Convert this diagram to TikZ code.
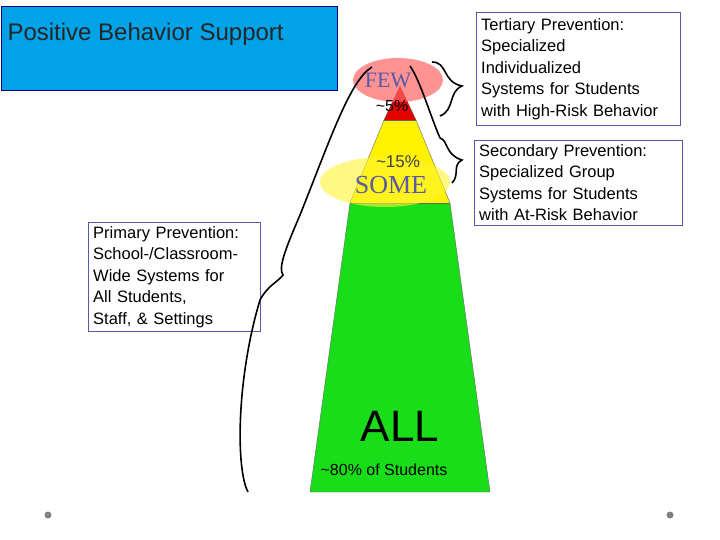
\documentclass[tikz,border=0pt]{standalone}
\usepackage{fontspec}
\setmainfont{Liberation Sans}
\newfontfamily\serf{Liberation Serif}
\definecolor{titleblue}{RGB}{0,162,232}
\begin{document}
\begin{tikzpicture}[x=1pt,y=-1pt,
 infobox/.style={draw=blue!30!gray,fill=white,align=left,inner xsep=5pt,inner ysep=6pt,font=\fontsize{16.5}{21.5}\selectfont,anchor=north west},
 br/.style={black,line width=1.6pt}]
\useasboundingbox (0,0) rectangle (720,540);
\fill[white] (0,0) rectangle (720,540);
\node[draw=blue!50!black,line width=1pt,fill=titleblue,minimum width=336pt,minimum height=84pt,anchor=north west] (title) at (1,6) {};
\node[anchor=north west,font=\fontsize{24}{28}\selectfont,text=black!85] (tt) at (4,20) {Positive Behavior Support};
% pyramid
\coordinate (apex) at (400,86);
\fill[green!85!black!90] (310,492) -- (350,203) -- (450,203) -- (490,492) -- cycle;
\fill[yellow] (350,203) -- (384,120) -- (416,120) -- (450,203) -- cycle;
\fill[red!90!black] (384,120) -- (apex) -- (416,120) -- cycle;
\draw[black!60] (310,492) -- (350,203) -- (384,120) -- (apex) -- (416,120) -- (450,203) -- (490,492) -- cycle;
\draw[black!60] (350,203) -- (450,203) (384,120) -- (416,120);
\fill[red!60,opacity=0.7] (398,80) ellipse (45 and 22);
\fill[yellow!80,opacity=0.6] (385,182) ellipse (65 and 25);
\node[font=\serf\fontsize{22}{24}\selectfont,text=blue!30!gray] (few) at (388,80) {FEW};
\node[font=\fontsize{16}{18}\selectfont] (p5) at (392,106) {\textasciitilde5\%};
\node[font=\fontsize{17}{18}\selectfont,text=black!75] (p15) at (398,162) {\textasciitilde15\%};
\node[font=\serf\fontsize{26}{28}\selectfont,text=blue!30!gray] (some) at (391,185) {SOME};
\node[font=\fontsize{44}{48}\selectfont] (all) at (400,426) {ALL};
\node[font=\fontsize{16}{18}\selectfont] (p80) at (384,470) {\textasciitilde80\% of Students};
% boxes
\node[infobox,text width=194pt] (ter) at (476,12) {Tertiary Prevention:\\Specialized\\Individualized\\Systems for Students\\with High-Risk Behavior};
\node[infobox,text width=198pt,inner ysep=4pt] (sec) at (474,140) {Secondary Prevention:\\Specialized Group\\Systems for Students\\with At-Risk Behavior};
\node[infobox,text width=162pt,inner ysep=4pt] (pri) at (88,222) {Primary Prevention:\\School-/Classroom-\\Wide Systems for\\All Students,\\Staff, \& Settings};
% braces
\draw[br] (248,492) .. controls (236,470) and (236,380) .. (260,300) .. controls (268,285) and (278,282) .. (283,275)
 .. controls (278,268) and (285,250) .. (300,215) .. controls (330,140) and (350,80) .. (372,67);
\draw[br] (440,138) .. controls (430,115) and (420,80) .. (410,66);
\draw[br] (440,138) .. controls (448,140) and (445,155) .. (462,160) .. controls (452,165) and (460,175) .. (452,183);
\draw[br] (432,62) .. controls (448,62) and (442,82) .. (462,86) .. controls (448,92) and (455,110) .. (440,116);
% dots
\fill[gray] (48,515) circle (3.5);
\fill[gray] (670,515) circle (3.5);
\end{tikzpicture}
\end{document}
